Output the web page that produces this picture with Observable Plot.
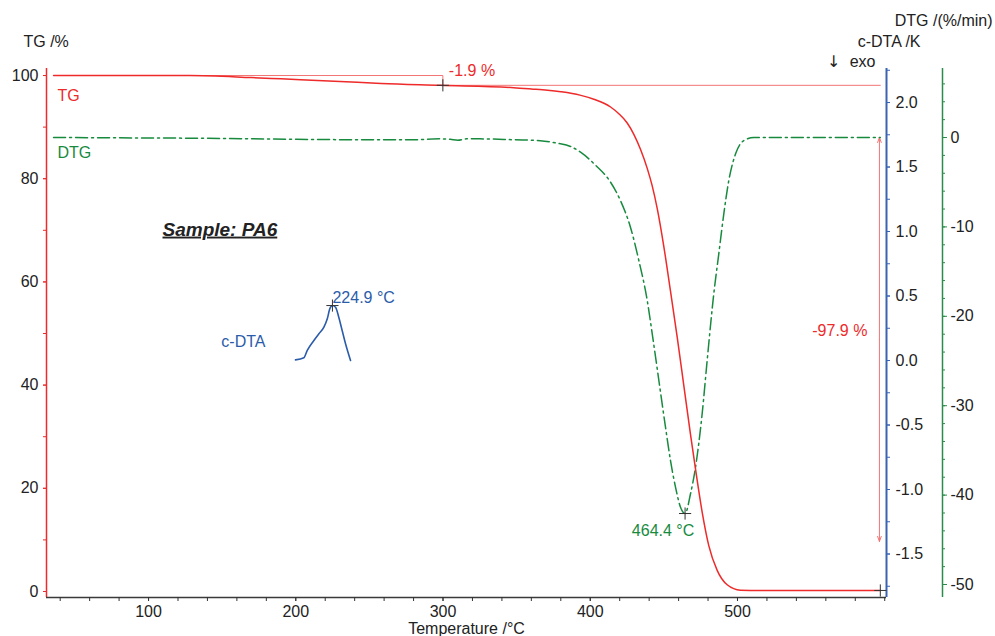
<!DOCTYPE html>
<html>
<head>
<meta charset="utf-8">
<script src="https://cdn.jsdelivr.net/npm/d3@7"></script>
<script src="https://cdn.jsdelivr.net/npm/@observablehq/plot@0.6"></script>
<style>
  body { margin: 0; background: #fff; }
  #chart svg { font-family: "Liberation Sans", Arial, sans-serif; }
</style>
</head>
<body>
<div id="chart"></div>
<script>
// ---------- data ----------
const tgTemp  = [35.5, 128, 170, 190, 230, 258, 298, 348, 360, 371, 380, 393, 402.4, 413.8, 419.4, 425.1, 429.6, 434.1, 438.7, 442.0, 445.5, 450.0, 454.5, 459.1, 463.5, 468.1, 471.5, 476.0, 480.5, 486.2, 493.0, 502.0, 515.6, 597];
const tgValue = [100, 100, 99.6, 99.35, 98.85, 98.45, 98.1, 97.65, 97.4, 97.15, 96.85, 96.2, 95.4, 93.9, 92.6, 90.8, 88.6, 85.7, 82.0, 78.7, 74.2, 66.8, 58.2, 49.2, 40.0, 30.4, 23.7, 15.4, 8.9, 4.1, 1.3, 0.25, 0.2, 0.2];

const dtgTemp  = [35.5, 100, 150, 200, 250, 280, 298, 305, 310, 316, 325, 348, 366, 377.6, 386.6, 393.4, 403.6, 413.8, 420.5, 427.3, 433.0, 438.7, 442.1, 446.6, 451.1, 454.5, 457.9, 461.3, 464.4, 468.1, 471.5, 476.0, 479.4, 483.9, 487.3, 490.7, 494.1, 498.7, 504.3, 511.1, 597];
const dtgValue = [0, -0.05, -0.1, -0.2, -0.25, -0.25, -0.15, -0.2, -0.3, -0.15, -0.15, -0.25, -0.35, -0.64, -1.0, -1.64, -3.1, -5.0, -7.05, -10.03, -13.76, -18.23, -21.96, -27.18, -32.40, -36.13, -39.11, -41.35, -42.06, -39.85, -36.87, -30.90, -24.94, -17.48, -13.01, -8.54, -4.81, -1.82, -0.34, 0.0, 0.0];

const dtaTemp  = [199.8, 205.5, 207.8, 212.3, 215.7, 219.1, 221.4, 223.1, 224.9, 227.0, 229.2, 231.5, 233.8, 237.2];
const dtaValue = [0.005, 0.021, 0.078, 0.155, 0.207, 0.258, 0.323, 0.401, 0.426, 0.413, 0.336, 0.233, 0.130, 0.0];

const xTicks      = [100, 200, 300, 400, 500];
const xMinorTicks = d3.range(40, 601, 20);
const tgTicks     = [0, 20, 40, 60, 80, 100];
const tgMinor     = d3.range(0, 101, 10);
const dtaTicks    = [-1.5, -1.0, -0.5, 0.0, 0.5, 1.0, 1.5, 2.0];
const dtaMinor    = d3.range(-1.75, 2.26, 0.25);
const dtgTicks    = [-50, -40, -30, -20, -10, 0];
const dtgMinor    = d3.range(-50, 7, 2);

const stepTemp   = 299.9;           // TG step evaluation point
const stepLevels = [100, 98.1];
const endTemp    = 597;
const endLevel   = 0.2;
const massLossLabels = ["-1.9 %", "-97.9 %"];
const lossArrow  = {T: 596.4, top: 88.0, bottom: 9.7};
const dtaPeak    = {T: 224.9, label: "224.9 °C"};
const dtgPeak    = {T: 464.4, label: "464.4 °C"};

// ---------- alignment of the three value axes onto one vertical scale ----------
const xDomain = [30.7, 601.2];
const yDomain = [-1.163, 101.36];           // TG /%
const dtaToTG = k => 44.767 + 25 * k;        // c-DTA /K  -> TG-equivalent
const dtgToTG = d => 87.984 + 1.7326 * d;    // DTG /(%/min) -> TG-equivalent
const tgFromDta = v => (Math.round((v - 44.767) / 25 * 100) / 100).toFixed(1);
const tgFromDtg = v => String(Math.round((v - 87.984) / 1.7326));

const tg  = tgTemp.map((T, i) => ({T, v: tgValue[i]}));
const dtg = dtgTemp.map((T, i) => ({T, v: dtgToTG(dtgValue[i])}));
const dta = dtaTemp.map((T, i) => ({T, v: dtaToTG(dtaValue[i])}));

const dtaPeakPt = {T: dtaPeak.T, v: dtaToTG(dtaValue[dtaTemp.indexOf(dtaPeak.T)])};
const dtgPeakPt = {T: dtgPeak.T, v: dtgToTG(dtgValue[dtgTemp.indexOf(dtgPeak.T)])};
const stepPath = [
  {T: tgTemp[0], v: stepLevels[0]},
  {T: stepTemp, v: stepLevels[0]},
  {T: stepTemp, v: stepLevels[1]},
  {T: endTemp, v: stepLevels[1]}
];
const arrowMid = (lossArrow.top + lossArrow.bottom) / 2;
const markers = [
  {T: stepTemp, v: stepLevels[1]},
  dtaPeakPt,
  dtgPeakPt,
  {T: endTemp, v: endLevel}
];

const red = "#ee2a2a", pale = "#f27474", green = "#178a3e", blue = "#2b5caa";
const blueAxis = "#3a64b2", greenAxis = "#2a8c48", ink = "#222";
const fs = 16;
const mid = "middle";

const chart = Plot.plot({
  width: 995,
  height: 636,
  marginLeft: 46,
  marginRight: 109,
  marginTop: 68,
  marginBottom: 39,
  x: {domain: xDomain, axis: null, label: null},
  y: {domain: yDomain, axis: null, label: null},
  style: {fontFamily: "'Liberation Sans', Arial, sans-serif", fontSize: "16px", background: "#fff", overflow: "visible"},
  marks: [
    // axis lines
    Plot.ruleX([xDomain[0]], {stroke: red, strokeWidth: 1.5}),
    Plot.ruleX([xDomain[1]], {stroke: blueAxis, strokeWidth: 2}),
    Plot.ruleX([xDomain[1]], {stroke: greenAxis, strokeWidth: 1.5, dx: 56}),
    Plot.ruleY([yDomain[0]], {stroke: "#3a3a3a", strokeWidth: 1.5, x1: xDomain[0], x2: xDomain[1]}),

    // x axis
    Plot.axisX(xMinorTicks, {anchor: "bottom", tickSize: 4, tickFormat: () => "", stroke: "#333", label: null}),
    Plot.axisX(xTicks, {anchor: "bottom", tickSize: 4, tickPadding: 4, stroke: "#333", fill: ink, fontSize: fs, label: null}),
    Plot.text(["Temperature /°C"], {frameAnchor: "bottom", lineAnchor: mid, text: d => d, dy: 31, fill: ink, fontSize: fs}),

    // TG axis (left)
    Plot.axisY(tgMinor, {anchor: "left", tickSize: 3, tickFormat: () => "", stroke: red, label: null}),
    Plot.axisY(tgTicks, {anchor: "left", tickSize: 3, tickPadding: 5, stroke: red, fill: ink, fontSize: fs, label: null}),

    // c-DTA axis (right, blue)
    Plot.axisY(dtaMinor.map(dtaToTG), {anchor: "right", tickSize: 3, tickFormat: () => "", stroke: blueAxis, label: null}),
    Plot.axisY(dtaTicks.map(dtaToTG), {anchor: "right", tickSize: 3, tickPadding: 6, tickFormat: tgFromDta, stroke: blueAxis, fill: ink, fontSize: fs, label: null}),

    // DTG axis (far right, green)
    Plot.axisY(dtgMinor.map(dtgToTG), {anchor: "right", dx: 56, tickSize: 2, tickFormat: () => "", stroke: greenAxis, label: null}),
    Plot.axisY(dtgTicks.map(dtgToTG), {anchor: "right", dx: 56, tickSize: 4, tickPadding: 4, tickFormat: tgFromDtg, stroke: greenAxis, fill: ink, fontSize: fs, label: null}),

    // axis titles
    Plot.text(["TG /%"], {frameAnchor: "top-left", lineAnchor: mid, text: d => d, textAnchor: "start", dx: -23, dy: -27, fill: ink, fontSize: fs}),
    Plot.text(["DTG /(%/min)"], {frameAnchor: "top-right", lineAnchor: mid, text: d => d, textAnchor: "end", dx: 106, dy: -48, fill: ink, fontSize: fs}),
    Plot.text(["c-DTA /K"], {frameAnchor: "top-right", lineAnchor: mid, text: d => d, textAnchor: "end", dx: 34, dy: -27, fill: ink, fontSize: fs}),
    Plot.text(["↓"], {frameAnchor: "top-right", lineAnchor: mid, text: d => d, textAnchor: "end", dx: -46, dy: -7, fill: ink, fontSize: 16, fontFamily: "DejaVu Sans"}),
    Plot.text(["exo"], {frameAnchor: "top-right", lineAnchor: mid, text: d => d, textAnchor: "end", dx: -11, dy: -7, fill: ink, fontSize: fs}),

    // step annotation (pale red)
    Plot.line(stepPath, {x: "T", y: "v", stroke: pale, strokeWidth: 1}),
    Plot.arrow([0], {x1: lossArrow.T, x2: lossArrow.T, y1: arrowMid, y2: lossArrow.top, stroke: pale, strokeWidth: 1, headLength: 8, headAngle: 40}),
    Plot.arrow([0], {x1: lossArrow.T, x2: lossArrow.T, y1: arrowMid, y2: lossArrow.bottom, stroke: pale, strokeWidth: 1, headLength: 8, headAngle: 40}),

    // curves
    Plot.line(dtg, {x: "T", y: "v", stroke: green, strokeWidth: 1.5, strokeDasharray: "12,4,2,4", curve: "monotone-x"}),
    Plot.line(tg, {x: "T", y: "v", stroke: red, strokeWidth: 1.5, curve: "monotone-x"}),
    Plot.line(dta, {x: "T", y: "v", stroke: blue, strokeWidth: 1.6, curve: "monotone-x"}),

    // markers
    Plot.dot(markers, {x: "T", y: "v", symbol: "plus", r: 4, stroke: "#333", strokeWidth: 1}),

    // series labels
    Plot.text(["TG"], {frameAnchor: "top-left", lineAnchor: mid, text: d => d, textAnchor: "start", dx: 11, dy: 27, fill: red, fontSize: fs}),
    Plot.text(["DTG"], {frameAnchor: "top-left", lineAnchor: mid, text: d => d, textAnchor: "start", dx: 11, dy: 84, fill: green, fontSize: fs}),
    Plot.text([dta[0]], {x: "T", y: "v", text: () => "c-DTA", textAnchor: "end", dx: -30, dy: -18, fill: blue, fontSize: fs}),
    Plot.text(["Sample: PA6"], {frameAnchor: "top-left", lineAnchor: mid, text: d => d, textAnchor: "start", dx: 116, dy: 161, fill: ink, fontSize: 19, fontWeight: "bold", fontStyle: "italic"}),

    // value annotations
    Plot.text([{T: stepTemp, v: stepLevels[0]}], {x: "T", y: "v", text: () => massLossLabels[0], textAnchor: "start", dx: 6, dy: -5, fill: red, fontSize: fs}),
    Plot.text([{T: lossArrow.T, v: arrowMid}], {x: "T", y: "v", text: () => massLossLabels[1], textAnchor: "end", dx: -12, dy: -9, fill: red, fontSize: fs}),
    Plot.text([dtaPeakPt], {x: "T", y: "v", text: () => dtaPeak.label, textAnchor: "start", dx: 0, dy: -8, fill: blue, fontSize: fs}),
    Plot.text([dtgPeakPt], {x: "T", y: "v", text: () => dtgPeak.label, textAnchor: "middle", dx: -22, dy: 17, fill: green, fontSize: fs})
  ]
});

d3.select(chart).selectAll("text")
  .filter(function () { return this.textContent === "Sample: PA6"; })
  .style("text-decoration", "underline");

document.getElementById("chart").appendChild(chart);
</script>
</body>
</html>
